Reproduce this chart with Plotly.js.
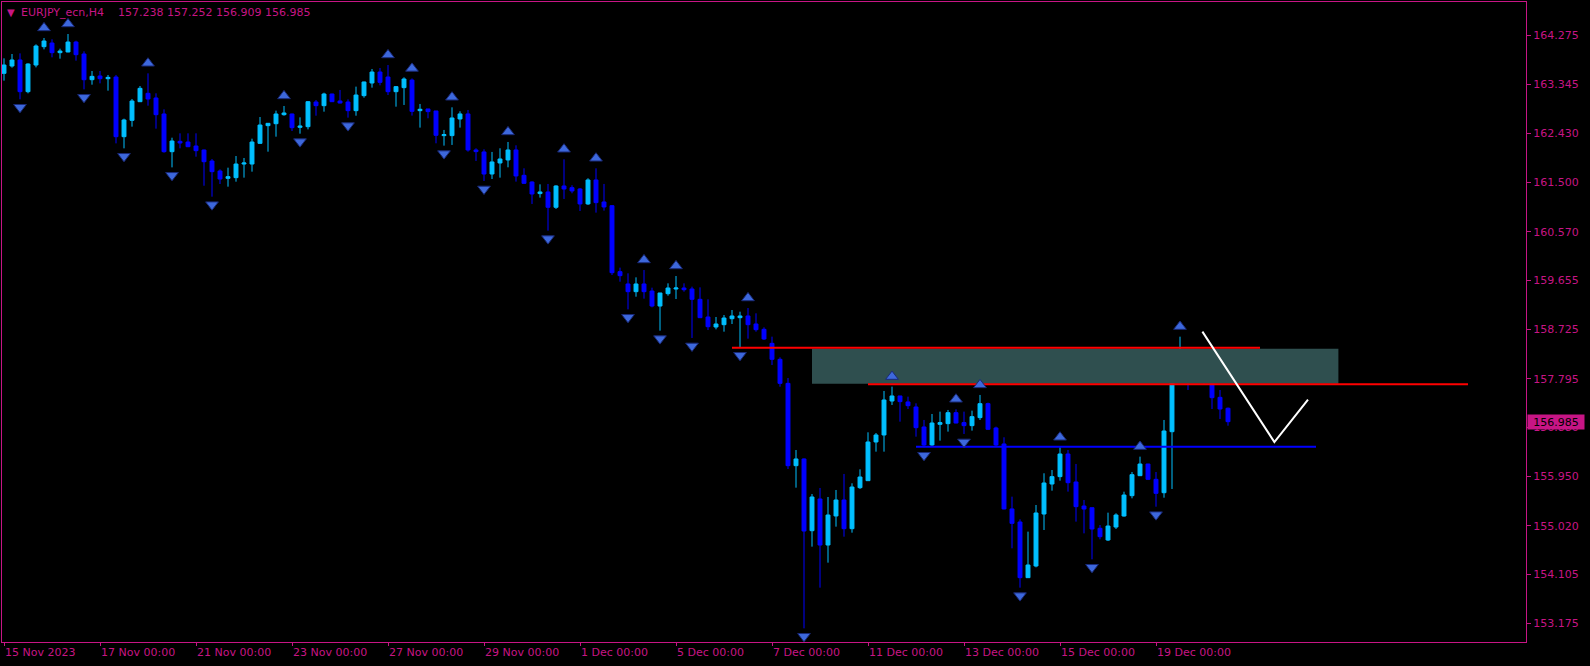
<!DOCTYPE html>
<html>
<head>
<meta charset="utf-8">
<script src="https://cdn.plot.ly/plotly-3.0.1.min.js"></script>
<style>html,body{margin:0;padding:0;background:#000;}#chart{width:1590px;height:666px;}</style>
</head>
<body>
<div id="chart"></div>
<script>
// ---- data (EURJPY_ecn, H4), bar index 0 = 15 Nov 2023 00:00 ----
const opens = [163.557,163.695,163.809,163.211,163.714,164.060,164.129,163.947,163.960,164.148,
163.922,163.437,163.507,163.456,163.488,162.362,162.670,163.022,163.180,163.092,
162.790,162.079,162.274,162.261,162.186,162.110,161.903,161.714,161.576,161.589,
161.846,161.846,162.236,162.570,162.607,162.777,162.790,162.538,162.551,163.016,
162.947,163.167,163.035,163.016,162.853,163.136,163.375,163.582,163.488,163.211,
163.287,163.430,162.853,162.885,162.847,162.382,162.382,162.696,162.791,162.111,
162.074,161.658,161.866,161.923,162.111,161.633,161.507,161.288,161.319,161.030,
161.432,161.400,161.375,161.093,161.545,161.130,161.060,159.815,159.583,159.438,
159.583,159.450,159.167,159.400,159.488,159.507,159.488,159.293,158.960,158.771,
158.815,158.928,158.947,158.979,158.828,158.727,158.463,158.161,157.708,156.155,
156.281,154.928,155.526,154.658,155.206,155.507,154.966,155.740,155.872,156.602,
156.734,157.375,157.470,157.357,157.262,156.885,156.545,156.935,156.948,157.155,
156.967,156.910,157.061,157.325,156.866,156.564,155.338,155.092,154.042,154.262,
155.243,155.809,155.948,156.375,155.847,155.394,155.362,154.973,154.752,154.997,
155.205,155.589,155.966,156.186,155.897,155.645,156.796,158.136,158.167,157.853,
157.928,157.790,157.444,157.238];
const highs = [163.840,163.922,163.934,163.746,164.104,164.224,164.199,164.022,164.299,164.173,
163.972,163.601,163.601,163.526,163.526,162.702,163.073,163.318,163.557,163.180,
162.878,162.343,162.425,162.425,162.425,162.120,161.941,161.746,161.777,161.997,
161.960,162.324,162.733,162.614,162.853,162.941,162.796,162.727,163.035,163.054,
163.192,163.172,163.243,163.066,163.306,163.400,163.639,163.658,163.714,163.318,
163.482,163.460,162.979,162.885,162.847,162.489,162.916,162.841,162.866,162.143,
162.124,162.074,162.143,162.262,162.199,161.765,161.520,161.463,161.470,161.445,
161.935,161.445,161.394,161.577,161.765,161.470,161.073,159.891,159.784,159.708,
159.846,159.513,159.413,159.595,159.733,159.595,159.532,159.519,159.293,158.960,
158.997,159.092,159.060,159.129,159.029,158.765,158.589,158.199,157.809,156.450,
156.293,155.620,155.734,155.564,155.696,155.998,155.822,156.086,156.784,156.771,
157.564,157.646,157.470,157.457,157.331,157.017,157.130,157.174,157.206,157.218,
157.174,157.193,157.489,157.344,156.891,156.690,155.570,155.143,154.910,155.413,
156.011,156.073,156.501,156.451,156.187,155.507,155.362,155.035,155.268,155.256,
155.664,156.035,156.325,156.190,156.035,157.017,158.350,158.589,158.350,158.004,
158.136,157.960,157.583,157.252];
const lows = [163.419,163.664,163.067,163.180,163.670,164.010,163.859,163.834,163.955,163.796,
163.255,163.343,163.368,163.230,162.236,162.142,162.551,163.016,162.947,162.513,
162.060,161.783,162.142,162.165,161.985,161.437,161.230,161.469,161.419,161.513,
161.589,161.702,162.230,162.079,162.362,162.758,162.469,162.419,162.500,162.758,
162.834,163.020,162.991,162.721,162.758,163.098,163.287,163.331,163.148,162.928,
162.960,162.760,162.533,162.709,162.237,162.193,162.206,162.533,162.080,161.904,
161.526,161.564,161.589,161.784,161.514,161.470,161.093,161.212,160.589,160.998,
161.187,161.294,160.960,161.074,160.929,160.967,159.752,159.626,159.104,159.343,
159.306,159.142,158.702,159.362,159.299,159.438,158.564,158.940,158.714,158.727,
158.683,158.828,158.387,158.551,158.683,158.526,158.054,157.645,156.092,155.740,
153.086,154.627,153.853,154.325,155.004,154.815,154.891,155.715,155.870,156.419,
156.419,157.300,156.985,157.224,156.702,156.501,156.526,156.627,156.797,156.954,
156.753,156.816,157.017,156.828,156.526,155.330,154.596,153.853,154.040,154.237,
154.941,155.683,155.872,155.665,155.099,154.878,154.388,154.765,154.733,154.960,
155.193,155.539,155.960,155.884,155.381,155.551,155.715,158.023,157.583,157.771,
157.696,157.224,157.036,156.909];
const closes = [163.714,163.809,163.211,163.733,164.073,164.167,163.947,163.978,164.148,163.909,
163.437,163.500,163.456,163.481,162.362,162.677,163.035,163.274,163.073,162.777,
162.079,162.280,162.243,162.173,162.098,161.890,161.702,161.563,161.607,161.846,
161.865,162.261,162.582,162.614,162.790,162.809,162.532,162.563,163.022,162.947,
163.167,163.022,162.997,162.853,163.148,163.394,163.582,163.387,163.211,163.306,
163.450,162.840,162.879,162.835,162.388,162.401,162.715,162.791,162.111,162.080,
161.658,161.885,161.941,162.111,161.621,161.482,161.281,161.319,161.030,161.432,
161.375,161.338,161.093,161.545,161.118,161.036,159.796,159.740,159.438,159.583,
159.438,159.167,159.413,159.507,159.507,159.475,159.293,158.947,158.777,158.828,
158.941,158.979,158.979,158.815,158.721,158.545,158.161,157.708,156.155,156.281,
154.922,155.564,154.658,155.224,155.507,154.966,155.752,155.941,156.602,156.734,
157.394,157.470,157.363,157.287,156.872,156.545,156.960,156.967,157.155,156.960,
156.910,157.080,157.325,156.841,156.545,155.338,155.067,154.042,154.281,155.262,
155.828,155.948,156.375,155.834,155.382,155.337,154.960,154.815,155.016,155.224,
155.601,155.985,156.186,155.897,155.633,156.809,158.149,158.167,157.853,157.928,
157.771,157.438,157.224,156.985];

// fractal bars
const fractalUpBars = [5,8,18,35,48,51,56,63,70,74,80,84,93,111,119,122,132,142,147];
const fractalDownBars = [2,10,15,21,26,37,43,55,60,68,78,82,86,92,100,115,120,127,136,144];

// time axis labels (every 12 bars)
const dateTickBars = [0,12,24,36,48,60,72,84,96,108,120,132,144];
const dateTickLabels = ['15 Nov 2023','17 Nov 00:00','21 Nov 00:00','23 Nov 00:00','27 Nov 00:00',
  '29 Nov 00:00','1 Dec 00:00','5 Dec 00:00','7 Dec 00:00','11 Dec 00:00','13 Dec 00:00',
  '15 Dec 00:00','19 Dec 00:00'];

// price axis labels
const priceTicks = [164.275,163.345,162.430,161.500,160.570,159.655,158.725,157.795,156.880,155.950,155.020,154.105,153.175];

// drawn objects
const zoneBars = [101, 166.8];
const zonePrices = [157.70, 158.36];
const resistanceBars = [91, 157];
const resistancePrice = 158.38;
const zoneLowBars = [108, 183];
const zoneLowPrice = 157.69;
const supportBars = [114, 164];
const supportPrice = 156.514;
const projectionBars = [149.8, 158.8, 163];
const projectionPrices = [158.684, 156.600, 157.403];

const symbolName = 'EURJPY_ecn,H4';

// ---- chart ----
const MAG = '#c71585';
const FONT = 'DejaVu Sans';
const idx = opens.map((_, i) => i);
const last = opens.length - 1;
const NB = '\u00a0';

const traces = [
  { type:'scatter', mode:'lines', hoverinfo:'skip',
    x:[zoneBars[0], zoneBars[1], zoneBars[1], zoneBars[0], zoneBars[0]],
    y:[zonePrices[0], zonePrices[0], zonePrices[1], zonePrices[1], zonePrices[0]],
    fill:'toself', fillcolor:'#2f4f4f', line:{width:0, color:'#2f4f4f'} },
  { type:'candlestick', x:idx, open:opens, high:highs, low:lows, close:closes,
    whiskerwidth:0,
    increasing:{line:{color:'#00bfff', width:1}, fillcolor:'#00bfff'},
    decreasing:{line:{color:'#0000ff', width:1}, fillcolor:'#0000ff'} },
  { type:'scatter', mode:'lines', x:resistanceBars, y:[resistancePrice, resistancePrice],
    line:{color:'#ff0000', width:2} },
  { type:'scatter', mode:'lines', x:zoneLowBars, y:[zoneLowPrice, zoneLowPrice],
    line:{color:'#ff0000', width:2} },
  { type:'scatter', mode:'lines', x:supportBars, y:[supportPrice, supportPrice],
    line:{color:'#0000ff', width:2} },
  { type:'scatter', mode:'lines', x:projectionBars, y:projectionPrices,
    line:{color:'#ffffff', width:2} },
  { type:'scatter', mode:'markers', x:fractalUpBars, y:fractalUpBars.map(i => highs[i] + 0.19),
    marker:{symbol:'triangle-up', size:11, color:'#3d68dc', line:{color:'#1a2a78', width:1}} },
  { type:'scatter', mode:'markers', x:fractalDownBars, y:fractalDownBars.map(i => lows[i] - 0.15),
    marker:{symbol:'triangle-down', size:11, color:'#3d68dc', line:{color:'#1a2a78', width:1}} }
];

const layout = {
  width:1590, height:666,
  paper_bgcolor:'#000000', plot_bgcolor:'#000000',
  margin:{l:2, r:64, t:2, b:24},
  showlegend:false,
  boxgap:0.3, boxgroupgap:0.3,
  title:{
    text: symbolName + NB + NB + NB + NB + [opens[last], highs[last], lows[last], closes[last]].map(v => v.toFixed(3)).join(NB),
    x: 21/1590, xanchor:'left', xref:'container',
    y: 1 - 12.5/666, yanchor:'middle', yref:'container',
    font:{family:FONT, size:11, color:MAG}
  },
  xaxis:{
    range:[-0.25, 190.25], showgrid:false, zeroline:false,
    showline:true, mirror:true, linecolor:MAG, linewidth:1,
    ticks:'outside', ticklen:3, tickcolor:MAG, tickwidth:1,
    tickvals:dateTickBars, ticktext:dateTickLabels,
    ticklabelposition:'outside right',
    tickfont:{family:FONT, size:11, color:MAG},
    rangeslider:{visible:false}, fixedrange:true
  },
  yaxis:{
    side:'right', range:[152.828, 164.903], showgrid:false, zeroline:false,
    showline:true, mirror:true, linecolor:MAG, linewidth:1,
    ticks:'outside', ticklen:4, tickcolor:MAG, tickwidth:1,
    tickvals:priceTicks, ticktext:priceTicks.map(v => v.toFixed(3)),
    tickfont:{family:FONT, size:11, color:MAG}, fixedrange:true
  },
  annotations:[
    { xref:'paper', yref:'paper', x:(11-2)/1524, y:(642-12.5)/640, text:'\u25BC', showarrow:false,
      xanchor:'center', yanchor:'middle', font:{family:FONT, size:10, color:MAG} },
    { xref:'paper', yref:'y', x:1, y:closes[last], xanchor:'left', yanchor:'middle', xshift:1,
      text:closes[last].toFixed(3), showarrow:false, bgcolor:MAG, borderpad:0,
      width:56, height:14, align:'center',
      font:{family:FONT, size:11, color:'#000000'} }
  ]
};

Plotly.newPlot('chart', traces, layout, {staticPlot:true, displayModeBar:false});
</script>
</body>
</html>
